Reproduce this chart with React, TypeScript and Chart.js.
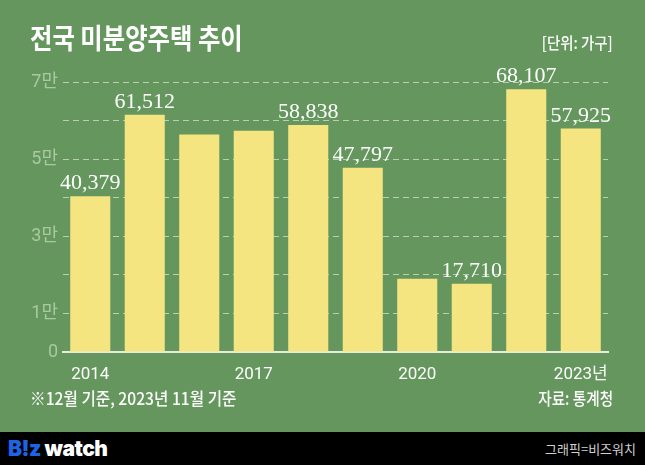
import React, { useEffect, useRef } from "react";
import { Chart, registerables } from "chart.js";

Chart.register(...registerables);

const years = ["2014", "2015", "2016", "2017", "2018", "2019", "2020", "2021", "2022", "2023년"];
const unsold = [40379, 61512, 56413, 57330, 58838, 47797, 19005, 17710, 68107, 57925];
const labeledYears = ["2014", "2015", "2018", "2019", "2021", "2022", "2023년"];
const shownXTicks = ["2014", "2017", "2020", "2023년"];
const yTickLabels: Record<number, string> = { 0: "0", 10000: "1만", 30000: "3만", 50000: "5만", 70000: "7만" };

const BG = "#64965d";
const BAR = "#f4e580";

const valueLabels = {
  id: "valueLabels",
  afterDatasetsDraw(chart: any) {
    const ctx = chart.ctx;
    const meta = chart.getDatasetMeta(0);
    ctx.save();
    ctx.font = "22px 'Liberation Serif', serif";
    ctx.fillStyle = "#ffffff";
    ctx.textAlign = "center";
    ctx.textBaseline = "alphabetic";
    meta.data.forEach((bar: any, i: number) => {
      if (!labeledYears.includes(years[i])) return;
      const v = unsold[i];
      ctx.fillText(v.toLocaleString("en-US"), bar.x, bar.y - 7);
    });
    ctx.restore();
  },
};

export default function App() {
  const ref = useRef<HTMLCanvasElement | null>(null);
  useEffect(() => {
    if (!ref.current) return;
    const chart = new Chart(ref.current, {
      type: "bar",
      data: {
        labels: years,
        datasets: [
          {
            data: unsold,
            backgroundColor: BAR,
            borderWidth: 0,
            categoryPercentage: 1,
            barPercentage: 0.735,
          },
        ],
      },
      options: {
        animation: false,
        responsive: false,
        maintainAspectRatio: false,
        layout: { padding: { left: 0, right: 37, top: 82, bottom: 0 } },
        plugins: { legend: { display: false }, tooltip: { enabled: false }, title: { display: false } },
        scales: {
          x: {
            grid: { display: false },
            border: { display: true, color: "#e9ecd9", width: 2 },
            ticks: {
              autoSkip: false,
              maxRotation: 0,
              padding: 5,
              color: "#ffffff",
              font: { family: "Roboto, 'Noto Sans CJK KR', sans-serif", size: 17 },
              callback: (_v: any, i: number) => (shownXTicks.includes(years[i]) ? years[i] : ""),
            },
            afterFit: (s: any) => {
              s.height = 80;
            },
          },
          y: {
            min: 0,
            max: 70000,
            grid: {
              drawTicks: false,
              color: (c: any) => (c.tick && c.tick.value === 0 ? "rgba(0,0,0,0)" : "rgba(220,232,210,0.7)"),
              lineWidth: 1,
            },
            border: { display: false, dash: [6, 4] },
            ticks: {
              stepSize: 10000,
              padding: 5,
              color: "#a9c9a1",
              font: { family: "Roboto, 'Noto Sans CJK KR', sans-serif", size: 18 },
              callback: (v: any) => (yTickLabels[v] !== undefined ? yTickLabels[v] : ""),
            },
            afterFit: (s: any) => {
              s.width = 63;
            },
          },
        },
      },
      plugins: [valueLabels],
    });
    return () => chart.destroy();
  }, []);

  const font = "'Noto Sans CJK KR', 'Noto Sans', sans-serif";
  return (
    <div
      style={{
        position: "absolute",
        left: 0,
        top: 0,
        width: 645,
        height: 465,
        background: BG,
        overflow: "hidden",
        fontFamily: font,
      }}
    >
      <canvas ref={ref} width={645} height={432} style={{ position: "absolute", left: 0, top: 0, width: 645, height: 432 }} />
      <div
        style={{
          position: "absolute",
          left: 30,
          top: 17,
          fontSize: 28,
          fontWeight: 700,
          color: "#fff",
          lineHeight: "40px",
          whiteSpace: "nowrap",
          transform: "scaleX(0.87)",
          transformOrigin: "left center",
        }}
      >
        전국 미분양주택 추이
      </div>
      <div
        style={{
          position: "absolute",
          right: 32,
          top: 31,
          fontSize: 16,
          fontWeight: 500,
          color: "#fff",
          lineHeight: "22px",
          whiteSpace: "nowrap",
          transform: "scaleX(0.9)",
          transformOrigin: "right center",
        }}
      >
        [단위: 가구]
      </div>
      <div
        style={{
          position: "absolute",
          left: 30,
          top: 386,
          fontSize: 17,
          fontWeight: 500,
          color: "#fff",
          lineHeight: "24px",
          whiteSpace: "nowrap",
          transform: "scaleX(0.92)",
          transformOrigin: "left center",
        }}
      >
        ※12월 기준, 2023년 11월 기준
      </div>
      <div
        style={{
          position: "absolute",
          right: 32,
          top: 386,
          fontSize: 17,
          fontWeight: 500,
          color: "#fff",
          lineHeight: "24px",
          whiteSpace: "nowrap",
          transform: "scaleX(0.86)",
          transformOrigin: "right center",
        }}
      >
        자료: 통계청
      </div>
      <div style={{ position: "absolute", left: 0, top: 432, width: 645, height: 33, background: "#000" }}>
        <div
          style={{
            position: "absolute",
            left: 8,
            top: 3,
            fontFamily: "Inter, 'Noto Sans', sans-serif",
            fontWeight: 900,
            fontSize: 21,
            lineHeight: "28px",
            letterSpacing: -0.5,
            whiteSpace: "nowrap",
          }}
        >
          <span style={{ color: "#1d63e6" }}>B!z</span>
          <span style={{ color: "#fff" }}> watch</span>
        </div>
        <div
          style={{
            position: "absolute",
            right: 9,
            top: 7,
            fontSize: 13,
            color: "#d0d0d0",
            lineHeight: "20px",
            whiteSpace: "nowrap",
          }}
        >
          그래픽=비즈워치
        </div>
      </div>
    </div>
  );
}
